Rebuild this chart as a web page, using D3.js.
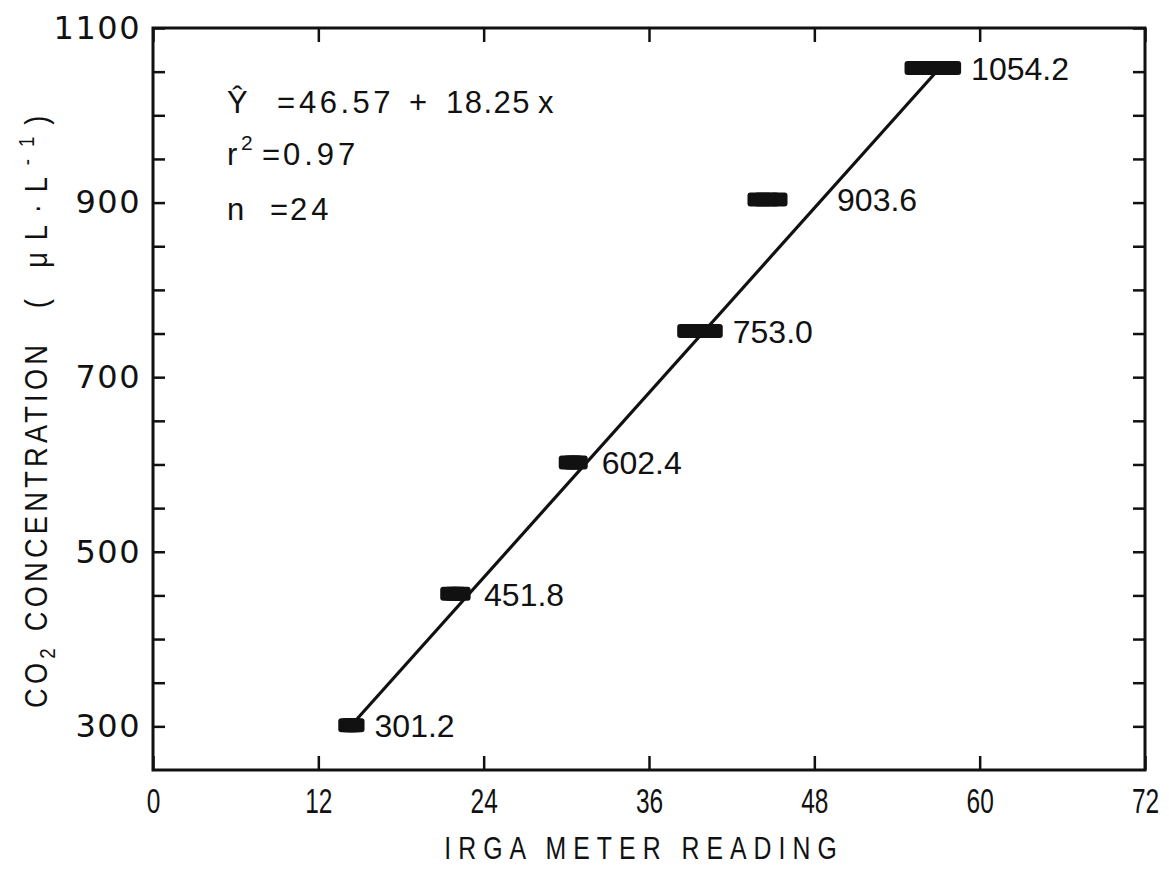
<!DOCTYPE html>
<html>
<head>
<meta charset="utf-8">
<script src="https://cdn.jsdelivr.net/npm/d3@7/dist/d3.min.js"></script>
<style>
  html, body { margin: 0; padding: 0; background: #fff; }
  svg { display: block; }
</style>
</head>
<body>
<svg id="chart" width="1169" height="871"></svg>
<script>
// ---- Data ----
const levels = [301.2, 451.8, 602.4, 753.0, 903.6, 1054.2];
const readings = [
  [14.1, 14.3, 14.5, 14.7],
  [21.5, 21.8, 22.1, 22.4],
  [30.1, 30.4, 30.6, 30.9],
  [38.7, 39.4, 40.0, 40.7],
  [43.8, 44.3, 44.8, 45.4],
  [55.2, 56.1, 57.0, 58.0]
];
const levelLabels = ["301.2", "451.8", "602.4", "753.0", "903.6", "1054.2"];
const lineX = [14.4, 57.1];
const lineY = [301.2, 1054.2];
const xTicks = [0, 12, 24, 36, 48, 60, 72];
const yTicks = [300, 350, 400, 450, 500, 550, 600, 650, 700, 750, 800, 850, 900, 950, 1000, 1050, 1100];
const yTickLabels = [300, 500, 700, 900, 1100];

// ---- Layout ----
const svg = d3.select("#chart");
const L = 153, R = 1145, T = 28, B = 770;
const x = d3.scaleLinear().domain([0, 72]).range([L, R]);
const y = d3.scaleLinear().domain([250, 1100]).range([B, T]);
const ink = "#111";

const wideFont = "'DejaVu Sans', 'Liberation Sans', sans-serif";
const narrowBase = "'Liberation Sans', Arial, sans-serif";
const labelFont = "'Liberation Sans', Arial, Helvetica, sans-serif";

// Left axis
const gL = svg.append("g").attr("transform", `translate(${L},0)`)
  .call(d3.axisLeft(y).tickValues(yTicks).tickSizeInner(-12).tickSizeOuter(0).tickPadding(12)
    .tickFormat(d => yTickLabels.includes(d) ? d : ""));
// Right axis
const gR = svg.append("g").attr("transform", `translate(${R},0)`)
  .call(d3.axisRight(y).tickValues(yTicks).tickSizeInner(-12).tickSizeOuter(0).tickFormat(""));
// Bottom axis
const gB = svg.append("g").attr("transform", `translate(0,${B})`)
  .call(d3.axisBottom(x).tickValues(xTicks).tickSizeInner(-14).tickSizeOuter(0).tickPadding(18));
// Top axis
const gT = svg.append("g").attr("transform", `translate(0,${T})`)
  .call(d3.axisTop(x).tickValues(xTicks).tickSizeInner(-14).tickSizeOuter(0).tickFormat(""));

[gL, gR, gB, gT].forEach(g => {
  g.select(".domain").remove();
  g.selectAll(".tick line").attr("stroke", ink).attr("stroke-width", 2.5);
});
gL.selectAll(".tick text").attr("font-family", wideFont).attr("font-size", 32)
  .attr("letter-spacing", 1.5).attr("fill", ink);
gB.selectAll(".tick text").attr("font-family", narrowBase).attr("font-size", 35)
  .attr("transform", "scale(0.7,1)").attr("fill", ink);

// Frame
svg.append("rect").attr("x", L).attr("y", T).attr("width", R - L).attr("height", B - T)
  .attr("fill", "none").attr("stroke", ink).attr("stroke-width", 3);

// Regression line
svg.append("line")
  .attr("x1", x(lineX[0])).attr("y1", y(lineY[0]))
  .attr("x2", x(lineX[1])).attr("y2", y(lineY[1]))
  .attr("stroke", ink).attr("stroke-width", 3.2);

// Data marks
const markW = 18, markH = 14;
const pts = [];
levels.forEach((lv, i) => readings[i].forEach(r => pts.push({ x: r, y: lv })));
svg.append("g").selectAll("rect").data(pts).join("rect")
  .attr("x", d => x(d.x) - markW / 2).attr("y", d => y(d.y) - markH / 2)
  .attr("width", markW).attr("height", markH).attr("rx", 3)
  .attr("fill", ink);

// Level labels
const slope = (y(lineY[1]) - y(lineY[0])) / (x(lineX[1]) - x(lineX[0]));
svg.append("g").selectAll("text").data(levels).join("text")
  .attr("x", (lv, i) => {
    const right = x(d3.max(readings[i])) + markW / 2 + 10;
    const lx = x(lineX[0]) + (y(lv) - y(lineY[0])) / slope + 15;
    return Math.max(right, lx);
  })
  .attr("y", lv => y(lv) + 12)
  .attr("font-family", labelFont).attr("font-size", 32).attr("fill", ink)
  .text((lv, i) => levelLabels[i]);

// Equation annotation
const ann = svg.append("g").attr("font-family", labelFont).attr("font-size", 31).attr("fill", ink);
const piece = (tx, ty, s, ls, fs) => {
  const t = ann.append("text").attr("x", tx).attr("y", ty).text(s);
  if (ls) t.attr("letter-spacing", ls);
  if (fs) t.attr("font-size", fs);
  return t;
};
piece(227, 113, "\u0176");
piece(277, 113, "=");
piece(299, 113, "46.57", 3.5);
piece(409, 113, "+");
piece(446, 113, "18.25", 1.5);
piece(538, 113, "x");
piece(227, 165, "r");
piece(241, 150, "2", 0, 21);
piece(262, 165, "=");
piece(283, 165, "0.97", 4);
piece(227, 220, "n");
piece(270, 220, "=");
piece(290, 220, "24", 4);

// Axis titles
svg.append("text").attr("transform", `translate(644,859) scale(0.8,1)`)
  .attr("text-anchor", "middle").attr("font-family", narrowBase).attr("font-size", 31)
  .attr("letter-spacing", 8.8).attr("fill", ink).text("IRGA METER READING");

const ytitle = (cy, ls) => svg.append("text")
  .attr("transform", `translate(47,${cy}) rotate(-90) scale(0.85,1)`)
  .attr("text-anchor", "middle").attr("font-family", narrowBase).attr("font-size", 32)
  .attr("letter-spacing", ls).attr("fill", ink);
const t1 = ytitle(676, 5);
t1.append("tspan").text("CO");
t1.append("tspan").attr("dy", 8).attr("font-size", 22).text("2");
ytitle(486, 5).text("CONCENTRATION");
const t3 = ytitle(206, 14);
t3.append("tspan").text("(\u00A0\u03BCL\u00B7L");
t3.append("tspan").attr("dy", -13).attr("font-size", 22).text("-1");
t3.append("tspan").attr("dy", 13).text(")");
</script>
</body>
</html>
